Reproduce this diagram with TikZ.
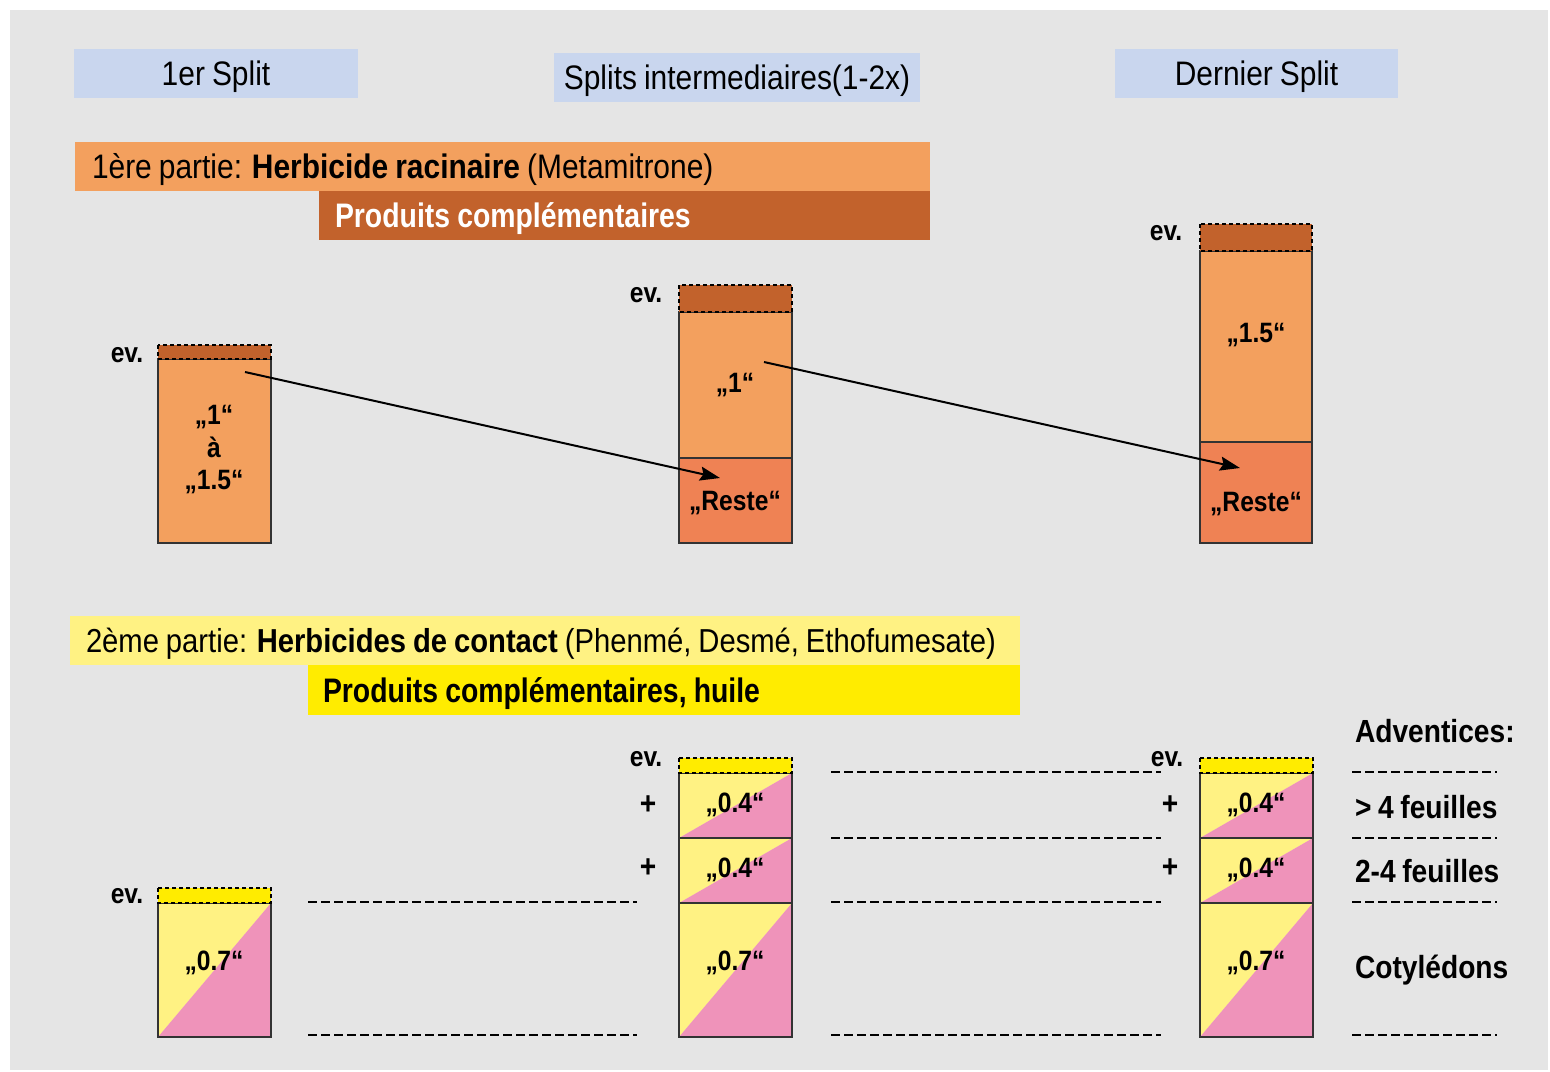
\documentclass[tikz,border=0pt]{standalone}
\usepackage{fontspec}
\setmainfont{Liberation Sans}[FakeStretch=0.88, WordSpace=0.85]
\newfontfamily\narrowfont{Liberation Sans}[FakeStretch=0.835, WordSpace=0.9]
\usetikzlibrary{arrows.meta}
\definecolor{bggrey}{HTML}{E5E5E5}
\definecolor{headblue}{HTML}{C9D6EE}
\definecolor{orangelt}{HTML}{F3A05E}
\definecolor{orangedk}{HTML}{C2622C}
\definecolor{restec}{HTML}{EF8254}
\definecolor{yellowlt}{HTML}{FFF283}
\definecolor{yellowc}{HTML}{FFEC00}
\definecolor{pinkc}{HTML}{EF93BA}
\newcommand{\hfont}{\fontsize{17}{20}\selectfont}
\newcommand{\lfont}{\fontsize{14}{16}\selectfont\bfseries}
\newcommand{\rfont}{\fontsize{16}{18}\selectfont\bfseries}
% x1 y1 x2 y2: box split on the diagonal, yellow above, pink below
\newcommand{\splitbox}[4]{%
  \fill[yellowlt] (#1,#2) -- (#3,#2) -- (#1,#4) -- cycle;
  \fill[pinkc] (#3,#2) -- (#3,#4) -- (#1,#4) -- cycle;
  \draw[seg] (#1,#2) rectangle (#3,#4);}

\begin{document}
\begin{tikzpicture}
  [x=0.5pt,y=-0.5pt, every node/.style={inner sep=0pt,outer sep=0pt},
   hdr/.style={fill=headblue, anchor=north west, minimum height=24.5pt, text height=12pt, text depth=0pt, font=\hfont},
   bar/.style={anchor=north west, minimum height=24.5pt, text height=12pt, text depth=0pt, font=\hfont},
   seg/.style={draw=black!80, line width=0.6pt},
   evband/.style={draw=black, dash pattern=on 2pt off 1.5pt, line width=0.7pt},
   lbl/.style={anchor=base, font=\lfont},
   guide/.style={dash pattern=on 4.5pt off 2pt, line width=0.9pt},
   arr/.style={-{Stealth[length=10pt,width=7pt,inset=1.5pt]}, line width=1pt}]

  \fill[white] (0,0) rectangle (1550,1071);
  \useasboundingbox (0,0) rectangle (1550,1071);
  \fill[bggrey] (10,10) rectangle (1548,1070);

  % headers
  \node[hdr, minimum width=142pt] (h1) at (74,49) {1er Split};
  \node[hdr, minimum width=183pt] (h2) at (554,53) {Splits intermediaires(1-2x)};
  \node[hdr, minimum width=141.5pt] (h3) at (1115,49) {Dernier Split};

  % 1ere partie
  \node[bar, fill=orangelt, inner xsep=8.5pt] (p1) at (75,142)
    {\makebox[410.5pt][l]{1ère partie: \textbf{Herbicide racinaire} (Metamitrone)}};
  \node[bar, fill=orangedk, inner xsep=8pt, text=white, font=\hfont\narrowfont\bfseries] (p1b) at (319,191)
    {\makebox[289.5pt][l]{Produits complémentaires}};

  \filldraw[seg, fill=orangelt] (158,359) rectangle (271,543);
  \filldraw[evband, fill=orangedk] (158,345) rectangle (271,359);
  \filldraw[seg, fill=orangelt] (679,312) rectangle (792,458);
  \filldraw[seg, fill=restec] (679,458) rectangle (792,543);
  \filldraw[evband, fill=orangedk] (679,285) rectangle (792,312);
  \filldraw[seg, fill=orangelt] (1200,251) rectangle (1312,442);
  \filldraw[seg, fill=restec] (1200,442) rectangle (1312,543);
  \filldraw[evband, fill=orangedk] (1200,224) rectangle (1312,251);

  \node[lbl] (ev1) at (127,362) {ev.};
  \node[lbl] (ev2) at (646,302) {ev.};
  \node[lbl] (ev3) at (1166,240) {ev.};

  \node[lbl] (a1) at (214,424) {„1“};
  \node[lbl] (a2) at (214,457) {à};
  \node[lbl] (a3) at (214,489) {„1.5“};
  \node[lbl] (b1) at (735,392) {„1“};
  \node[lbl] (b2) at (735,510) {„Reste“};
  \node[lbl] (c1) at (1256,342) {„1.5“};
  \node[lbl] (c2) at (1256,511) {„Reste“};

  \coordinate (s1) at (245,372);
  \coordinate (t1) at (720,478);
  \coordinate (s2) at (764,362);
  \coordinate (t2) at (1240,468);
  \draw[arr] (s1) -- (t1);
  \draw[arr] (s2) -- (t2);

  % 2eme partie
  \node[bar, fill=yellowlt, inner xsep=8pt, font=\fontsize{16.6}{20}\selectfont] (p2) at (70,616)
    {\makebox[459pt][l]{2ème partie: \textbf{Herbicides de contact} (Phenmé, Desmé, Ethofumesate)}};
  \node[bar, fill=yellowc, inner xsep=7.5pt, minimum height=25pt, font=\hfont\narrowfont\bfseries] (p2b) at (308,665)
    {\makebox[341pt][l]{Produits complémentaires, huile}};

  \splitbox{158}{903}{271}{1037}
  \filldraw[evband, fill=yellowc] (158,888) rectangle (271,903);
  \splitbox{679}{773}{792}{838}
  \splitbox{679}{838}{792}{903}
  \splitbox{679}{903}{792}{1037}
  \filldraw[evband, fill=yellowc] (679,758) rectangle (792,773);
  \splitbox{1200}{773}{1313}{838}
  \splitbox{1200}{838}{1313}{903}
  \splitbox{1200}{903}{1313}{1037}
  \filldraw[evband, fill=yellowc] (1200,758) rectangle (1313,773);

  \node[lbl] (ev4) at (127,903) {ev.};
  \node[lbl] (ev5) at (646,766) {ev.};
  \node[lbl] (ev6) at (1167,766) {ev.};
  \node[font=\rfont] (pl1) at (648,805) {+};
  \node[font=\rfont] (pl2) at (648,868) {+};
  \node[font=\rfont] (pl3) at (1170,805) {+};
  \node[font=\rfont] (pl4) at (1170,868) {+};

  \node[lbl] (d1) at (214,970) {„0.7“};
  \node[lbl] (e1) at (735,812) {„0.4“};
  \node[lbl] (e2) at (735,877) {„0.4“};
  \node[lbl] (e3) at (735,970) {„0.7“};
  \node[lbl] (f1) at (1256,812) {„0.4“};
  \node[lbl] (f2) at (1256,877) {„0.4“};
  \node[lbl] (f3) at (1256,970) {„0.7“};

  % guide lines
  \foreach \y in {902,1035} \draw[guide] (308,\y) -- (637,\y);
  \foreach \y in {772,838,902,1035} {
    \draw[guide] (831,\y) -- (1161,\y);
    \draw[guide] (1352,\y) -- (1497,\y);
  }

  \node[anchor=base west, font=\rfont] (g0) at (1355,742) {Adventices:};
  \node[anchor=base west, font=\rfont] (g1) at (1355,818) {> 4 feuilles};
  \node[anchor=base west, font=\rfont] (g2) at (1355,882) {2-4 feuilles};
  \node[anchor=base west, font=\rfont] (g3) at (1355,978) {Cotylédons};

\end{tikzpicture}
\end{document}
